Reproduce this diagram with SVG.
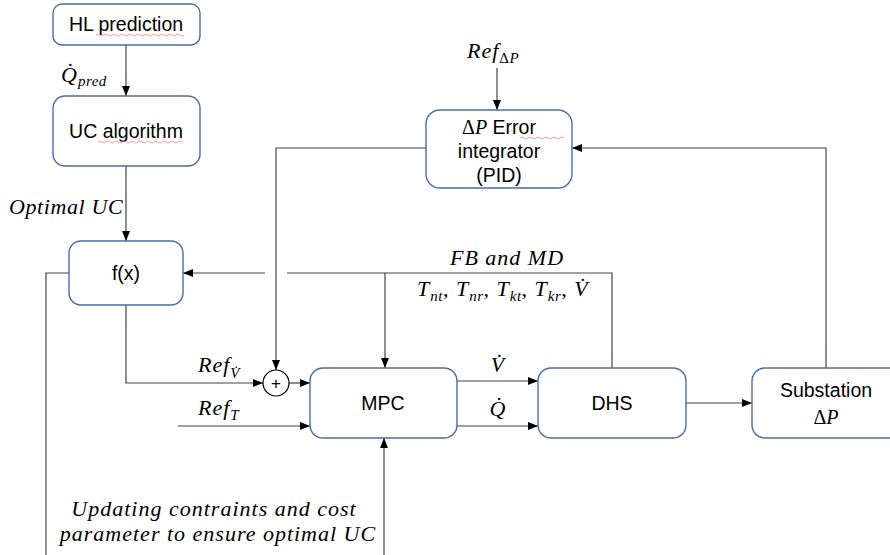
<svg xmlns="http://www.w3.org/2000/svg" width="890" height="555" viewBox="0 0 890 555">
<defs>
<marker id="arr" viewBox="0 0 10 10" refX="10" refY="5" markerWidth="10" markerHeight="10" markerUnits="userSpaceOnUse" orient="auto">
<path d="M0,1 L10,5 L0,9 Z" fill="#000"/>
</marker>
<style>
.box{fill:#fff;stroke:#4a6ca8;stroke-width:1.4}
.lbl{font-family:"Liberation Sans",Arial,sans-serif;font-size:19.5px;fill:#000;text-anchor:middle}
.m{font-family:"Liberation Serif","Times New Roman",serif;font-style:italic;font-size:22px;letter-spacing:1px;fill:#000}
.up{font-style:normal}
.sub{font-size:15px;letter-spacing:0.5px}
.c{fill:none;stroke:#444;stroke-width:1.2}
.ca{fill:none;stroke:#444;stroke-width:1.2;marker-end:url(#arr)}
.sq{fill:none;stroke:#f08080;stroke-width:0.8}
</style>
</defs>
<rect width="890" height="555" fill="#fff"/>

<g id="connectors">
<path class="ca" d="M126,45 V96"/>
<path class="ca" d="M126,166 V241"/>
<path class="c" d="M69,273 H46 V555"/>
<path class="ca" d="M265,273 H183"/>
<path class="c" d="M287,273 H612 V368"/>
<path class="ca" d="M385,273 V368"/>
<path class="ca" d="M126,305 V383 H263"/>
<path class="ca" d="M289,383 H310"/>
<path class="ca" d="M178,426 H310"/>
<path class="ca" d="M457,381 H538"/>
<path class="ca" d="M457,426 H538"/>
<path class="ca" d="M686,403 H752"/>
<path class="ca" d="M826,368 V148 H572"/>
<path class="ca" d="M497,68 V110"/>
<path class="ca" d="M426,148 H276 V370"/>
<path class="ca" d="M384,555 V438"/>
</g>

<g id="hl">
<rect class="box" x="53" y="4" width="147" height="41" rx="9"/>
<text class="lbl" x="126" y="31">HL prediction</text>
<path class="sq" d="M96,35 q2,-2 4,0 t4,0 t4,0 t4,0 t4,0 t4,0 t4,0 t4,0 t4,0 t4,0 t4,0 t4,0 t4,0 t4,0 t4,0 t4,0 t4,0 t4,0 t4,0 t4,0 t4,0 t4,0"/>
</g>

<g id="uc">
<rect class="box" x="53" y="96" width="147" height="70" rx="12"/>
<text class="lbl" x="126" y="138">UC algorithm</text>
<path class="sq" d="M98,142 q2,-2 4,0 t4,0 t4,0 t4,0 t4,0 t4,0 t4,0 t4,0 t4,0 t4,0 t4,0 t4,0 t4,0 t4,0 t4,0 t4,0 t4,0 t4,0 t4,0 t4,0 t4,0"/>
</g>

<g id="fx">
<rect class="box" x="69" y="241" width="114" height="64" rx="12"/>
<text class="lbl" x="126" y="280">f(x)</text>
</g>

<g id="pid">
<rect class="box" x="426" y="110" width="146" height="78" rx="14"/>
<text class="lbl" x="499" y="134"><tspan class="m" style="font-size:20px;letter-spacing:0"><tspan class="up">Δ</tspan>P</tspan> Error</text>
<path class="sq" d="M520,138 q2,-2 4,0 t4,0 t4,0 t4,0 t4,0 t4,0 t4,0 t4,0 t4,0 t4,0 t4,0"/>
<text class="lbl" x="499" y="158">integrator</text>
<text class="lbl" x="499" y="182">(PID)</text>
</g>

<g id="sum">
<circle cx="276" cy="383" r="13" fill="#fff" stroke="#000" stroke-width="1.2"/>
<text class="lbl" x="276" y="389" style="font-size:17px">+</text>
</g>

<g id="mpc">
<rect class="box" x="310" y="368" width="147" height="70" rx="13"/>
<text class="lbl" x="383" y="410">MPC</text>
</g>

<g id="dhs">
<rect class="box" x="538" y="368" width="148" height="70" rx="13"/>
<text class="lbl" x="612" y="410">DHS</text>
</g>

<g id="substation">
<rect class="box" x="752" y="368" width="150" height="70" rx="13"/>
<text class="lbl" x="826" y="397">Substation</text>
<text class="m" x="826" y="424" text-anchor="middle" style="font-size:20px;letter-spacing:0"><tspan class="up">Δ</tspan>P</text>
</g>

<g id="labels">
<text class="m" x="61" y="82">Q̇<tspan class="sub" dy="4">pred</tspan></text>
<text class="m" x="9" y="214" style="letter-spacing:0.6px">Optimal UC</text>
<text class="m" x="467" y="58">Ref<tspan class="sub" dy="5"><tspan class="up">Δ</tspan>P</tspan></text>
<text class="m" x="198" y="372">Ref<tspan class="sub" dy="6">V̇</tspan></text>
<text class="m" x="198" y="415">Ref<tspan class="sub" dy="5">T</tspan></text>
<text class="m" x="507" y="265" text-anchor="middle">FB and MD</text>
<text class="m" x="417" y="296">T<tspan class="sub" dy="5">nt</tspan><tspan dy="-5">, T</tspan><tspan class="sub" dy="5">nr</tspan><tspan dy="-5">, T</tspan><tspan class="sub" dy="5">kt</tspan><tspan dy="-5">, T</tspan><tspan class="sub" dy="5">kr</tspan><tspan dy="-5">, V̇</tspan></text>
<text class="m" x="498" y="372" text-anchor="middle">V̇</text>
<text class="m" x="498" y="416" text-anchor="middle">Q̇</text>
<text class="m" x="214" y="516" text-anchor="middle">Updating contraints and cost</text>
<text class="m" x="218" y="541" text-anchor="middle">parameter to ensure optimal UC</text>
</g>
</svg>
